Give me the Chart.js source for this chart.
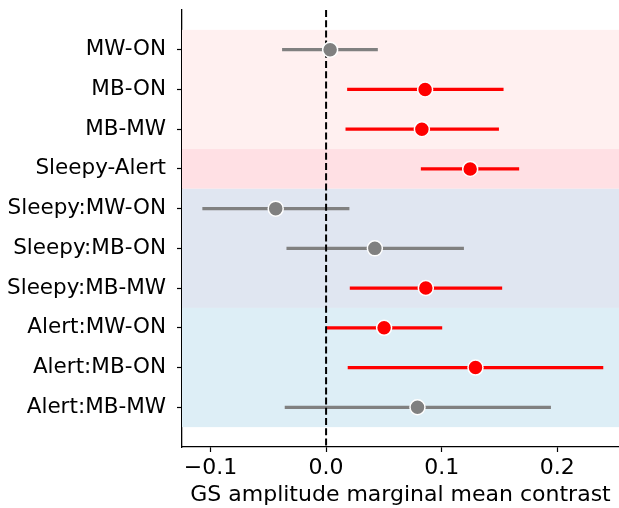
<!DOCTYPE html>
<html>
<head>
<meta charset="utf-8">
<script src="https://cdn.jsdelivr.net/npm/chart.js@4/dist/chart.umd.min.js"></script>
<style>
  html,body{margin:0;padding:0;background:#fff}
  #wrap{width:619px;height:508px;position:relative}
</style>
</head>
<body>
<div id="wrap"><canvas id="c"></canvas></div>
<script>
const labels = ['MW-ON','MB-ON','MB-MW','Sleepy-Alert','Sleepy:MW-ON','Sleepy:MB-ON','Sleepy:MB-MW','Alert:MW-ON','Alert:MB-ON','Alert:MB-MW']
const estimates = [0.0035,0.0857,0.0829,0.1247,-0.0436,0.0422,0.0863,0.0502,0.1293,0.0791]
const ciLow = [-0.0378,0.0185,0.0171,0.0823,-0.1068,-0.034,0.0208,0.0006,0.019,-0.0355]
const ciHigh = [0.0445,0.1533,0.1493,0.1668,0.0199,0.119,0.1521,0.1002,0.2396,0.1943]
const significant = [false,true,true,true,false,false,true,true,true,false]
const xTicks = [-0.1,0,0.1,0.2]

// background bands (row ranges)
const bandFrom = [-0.5,2.5,3.5,6.5]
const bandTo = [2.5,3.5,6.5,9.5]
const bandColors = ['#fff0f0','#ffe0e4','#e0e6f1','#ddeef6']

const RED = '#ff0000', GREY = '#808080'
const colors = significant.map(s => s ? RED : GREY)
const FONT = 'DejaVu Sans'

const bandsPlugin = {
  id:'bands',
  beforeDatasetsDraw(chart){
    const {ctx, chartArea:a, scales:{y}} = chart
    ctx.save()
    bandFrom.forEach((f,i)=>{
      const y0 = y.getPixelForValue(f), y1 = y.getPixelForValue(bandTo[i])
      ctx.fillStyle = bandColors[i]
      ctx.fillRect(a.left, y0, a.right-a.left, y1-y0)
    })
    ctx.restore()
  }
}

new Chart(document.getElementById('c'),{
  type:'bar',
  data:{
    datasets:[
      { type:'scatter', label:'est', data:estimates.map((v,i)=>({x:v,y:i})),
        pointRadius:7.5, pointHoverRadius:7.5, pointBackgroundColor:colors, pointBorderColor:'#fff', pointBorderWidth:1.5, order:1 },
      { type:'line', label:'zero', data:[{x:0,y:-1},{x:0,y:10}],
        borderColor:'#000', borderWidth:2, borderDash:[7,3.2], pointRadius:0, order:2 },
      { type:'bar', label:'ci', data:ciLow.map((v,i)=>({x:[v,ciHigh[i]],y:i})),
        backgroundColor:colors, barThickness:2.6, borderSkipped:false, order:3 }
    ]
  },
  options:{
    indexAxis:'y',
    responsive:true, maintainAspectRatio:false, animation:false,
    layout:{autoPadding:false, padding:{top:10,right:0,left:0,bottom:0}},
    plugins:{legend:{display:false},tooltip:{enabled:false}},
    scales:{
      x:{ type:'linear', min:-0.1247, max:0.2535,
        afterBuildTicks:s=>{ s.ticks = xTicks.map(v=>({value:v})) },
        afterFit:s=>{ s.height = 61; s.paddingLeft = 0; s.paddingRight = 0 },
        grid:{drawOnChartArea:false, tickLength:5, tickColor:'#000', tickWidth:1.2},
        border:{color:'#000', width:1.3},
        ticks:{color:'#000', font:{family:FONT,size:22}, padding:3,
          callback:v=> (v<0?'\u2212':'') + Math.abs(v).toFixed(1)},
        title:{display:true, text:'GS amplitude marginal mean contrast', color:'#000', font:{family:FONT,size:22}, padding:{top:2,bottom:0}}
      },
      y:{ type:'linear', min:-1, max:10, reverse:true, offset:false,
        afterBuildTicks:s=>{ s.ticks = labels.map((_,i)=>({value:i})) },
        afterFit:s=>{ s.width = 182; s.paddingTop = 0; s.paddingBottom = 0 },
        grid:{drawOnChartArea:false, offset:false, tickLength:5, tickColor:'#000', tickWidth:1.2},
        border:{color:'#000', width:1.3},
        ticks:{color:'#000', font:{family:FONT,size:21.5}, padding:11, autoSkip:false,
          callback:v=>labels[v] ?? ''}
      }
    }
  },
  plugins:[bandsPlugin]
})
</script>
</body>
</html>
